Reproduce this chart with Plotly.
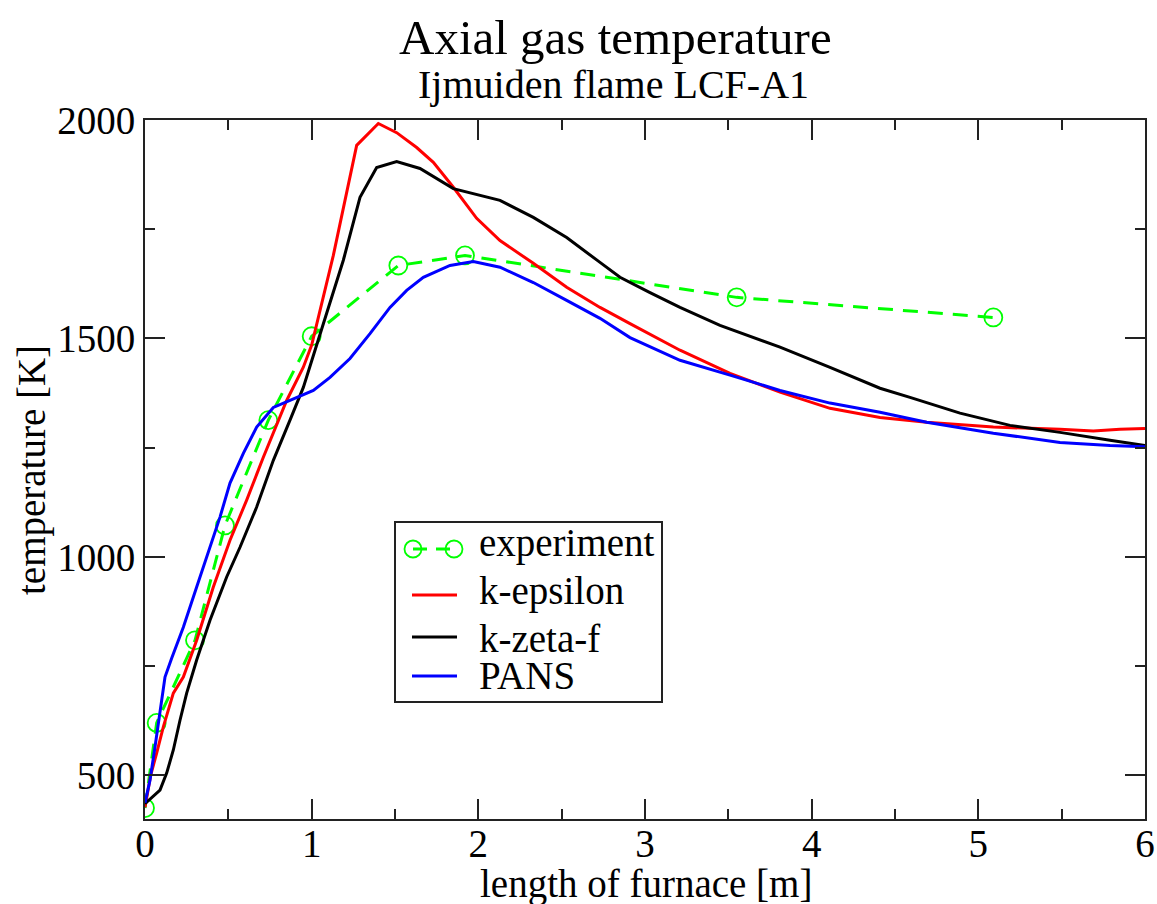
import plotly.graph_objects as go

# ---- data ----
exp_x = [0.0, 0.07, 0.30, 0.48, 0.74, 1.0, 1.52, 1.92, 3.55, 5.09]
exp_T = [425, 620, 809, 1072, 1313, 1505, 1667, 1690, 1594, 1548]

keps_x = [0.0, 0.034, 0.07, 0.11, 0.17, 0.23, 0.31, 0.41, 0.51, 0.61, 0.71, 0.85, 0.95, 1.0,
          1.13, 1.27, 1.40, 1.51, 1.63, 1.73, 1.85, 1.99, 2.13, 2.33, 2.53, 2.73, 2.91, 3.21,
          3.51, 3.81, 4.11, 4.41, 4.69, 5.09, 5.49, 5.69, 5.85, 6.0]
keps_T = [427, 500, 551, 611, 688, 725, 809, 931, 1038, 1130, 1228, 1358, 1434, 1485,
          1690, 1942, 1992, 1971, 1937, 1903, 1846, 1775, 1724, 1672, 1617, 1571, 1534, 1473,
          1420, 1377, 1340, 1319, 1308, 1297, 1292, 1288, 1292, 1294]

kzf_x = [0.0, 0.09, 0.13, 0.17, 0.21, 0.25, 0.31, 0.39, 0.49, 0.57, 0.67, 0.77, 0.87, 0.95,
         1.03, 1.19, 1.29, 1.39, 1.51, 1.65, 1.85, 2.01, 2.13, 2.33, 2.53, 2.73, 2.85, 3.03,
         3.21, 3.45, 3.81, 4.11, 4.41, 4.59, 4.89, 5.19, 5.49, 5.79, 6.0]
kzf_T = [435, 466, 505, 558, 626, 688, 764, 855, 954, 1022, 1114, 1221, 1313, 1388,
         1485, 1679, 1823, 1891, 1905, 1889, 1843, 1827, 1816, 1777, 1731, 1674, 1640, 1605,
         1571, 1530, 1480, 1434, 1386, 1365, 1329, 1301, 1285, 1267, 1255]

pans_x = [0.0, 0.03, 0.06, 0.09, 0.12, 0.16, 0.23, 0.31, 0.39, 0.45, 0.51, 0.59, 0.67, 0.77,
          0.87, 1.01, 1.11, 1.23, 1.35, 1.47, 1.57, 1.67, 1.83, 1.97, 2.13, 2.33, 2.53, 2.73,
          2.91, 3.21, 3.51, 3.81, 4.11, 4.41, 4.69, 5.09, 5.49, 5.79, 6.0]
pans_T = [437, 489, 565, 649, 725, 768, 839, 931, 1022, 1091, 1169, 1237, 1297, 1342,
          1358, 1381, 1411, 1454, 1511, 1571, 1610, 1640, 1667, 1676, 1663, 1628, 1587, 1546,
          1502, 1450, 1416, 1381, 1352, 1331, 1308, 1283, 1262, 1255, 1252]

legend_names = ["experiment", "k-epsilon", "k-zeta-f", "PANS"]
colors = ["#00ff00", "#ff0000", "#000000", "#0000ff"]

FONT = "Liberation Serif"
AX = "#222222"

# layout geometry (pixels)
W, H = 1157, 904
ML, MR, MT, MB = 145, 12, 120, 85
PW, PH = W - ML - MR, H - MT - MB


def px(x):
    return (x - ML) / PW


def py(y):
    return (H - MB - y) / PH


fig = go.Figure()
fig.add_trace(go.Scatter(x=exp_x, y=exp_T, name=legend_names[0], mode="lines+markers",
                         line=dict(color=colors[0], width=3, dash="15px,10px"),
                         marker=dict(symbol="circle-open", size=18, color=colors[0],
                                     line=dict(color=colors[0], width=1.8))))
fig.add_trace(go.Scatter(x=keps_x, y=keps_T, name=legend_names[1], mode="lines",
                         line=dict(color=colors[1], width=3)))
fig.add_trace(go.Scatter(x=kzf_x, y=kzf_T, name=legend_names[2], mode="lines",
                         line=dict(color=colors[2], width=3)))
fig.add_trace(go.Scatter(x=pans_x, y=pans_T, name=legend_names[3], mode="lines",
                         line=dict(color=colors[3], width=3)))

axis_common = dict(showgrid=False, zeroline=False, showline=True, linecolor=AX,
                   linewidth=2, mirror="ticks", ticks="inside", ticklen=20, tickwidth=2,
                   tickcolor=AX, automargin=False,
                   tickfont=dict(family=FONT, size=39, color="black"))

fig.update_xaxes(range=[0, 6], dtick=1, tick0=0, ticklabelstandoff=-11,
                 minor=dict(dtick=0.5, ticklen=10, tickwidth=2, ticks="inside",
                            tickcolor=AX),
                 **axis_common)
fig.update_yaxes(range=[400, 2000], dtick=500, tick0=0,
                 minor=dict(dtick=250, ticklen=10, tickwidth=2, ticks="inside",
                            tickcolor=AX),
                 **axis_common)

# ---- hand-drawn legend (box, samples, labels) ----
shapes = [dict(type="rect", xref="paper", yref="paper",
               x0=px(395), x1=px(662), y0=py(702), y1=py(522),
               line=dict(color=AX, width=2), fillcolor="white", layer="above")]
sample_y = [549, 595, 637, 676]
text_y = [543, 591, 638, 675]
# experiment sample: dashed line with two open circles
shapes.append(dict(type="line", xref="paper", yref="paper",
                   x0=px(413), x1=px(454), y0=py(sample_y[0]), y1=py(sample_y[0]),
                   line=dict(color=colors[0], width=3, dash="14px,9px"), layer="above"))
for cx in (413, 454):
    r = 8.5
    shapes.append(dict(type="circle", xref="paper", yref="paper",
                       x0=px(cx - r), x1=px(cx + r),
                       y0=py(sample_y[0] + r), y1=py(sample_y[0] - r),
                       line=dict(color=colors[0], width=1.8), layer="above"))
for i in range(1, 4):
    shapes.append(dict(type="line", xref="paper", yref="paper",
                       x0=px(412), x1=px(457), y0=py(sample_y[i]), y1=py(sample_y[i]),
                       line=dict(color=colors[i], width=3), layer="above"))

annotations = [
    dict(text="Axial gas temperature", xref="paper", yref="paper", x=px(615), y=1,
         xanchor="center", yanchor="middle", yshift=83, showarrow=False,
         font=dict(family=FONT, size=49, color="black")),
    dict(text="Ijmuiden flame LCF-A1", xref="paper", yref="paper", x=px(613), y=1,
         xanchor="center", yanchor="middle", yshift=36, showarrow=False,
         font=dict(family=FONT, size=40, color="black")),
    dict(text="length of furnace [m]", xref="paper", yref="paper", x=px(646), y=0,
         xanchor="center", yanchor="middle", yshift=-65, showarrow=False,
         font=dict(family=FONT, size=39, color="black")),
    dict(text="temperature [K]", xref="paper", yref="paper", x=0, y=py(470),
         xanchor="center", yanchor="middle", xshift=-113, textangle=-90,
         showarrow=False, font=dict(family=FONT, size=39, color="black")),
]
for name, ty in zip(legend_names, text_y):
    annotations.append(dict(text=name, xref="paper", yref="paper", x=px(477), y=py(ty),
                            xanchor="left", yanchor="middle", showarrow=False,
                            font=dict(family=FONT, size=39, color="black")))

fig.update_layout(
    width=W, height=H,
    margin=dict(l=ML, r=MR, t=MT, b=MB),
    paper_bgcolor="white", plot_bgcolor="white",
    font=dict(family=FONT, color="black"),
    showlegend=False,
    shapes=shapes,
    annotations=annotations,
)

fig.write_html("out.html")
